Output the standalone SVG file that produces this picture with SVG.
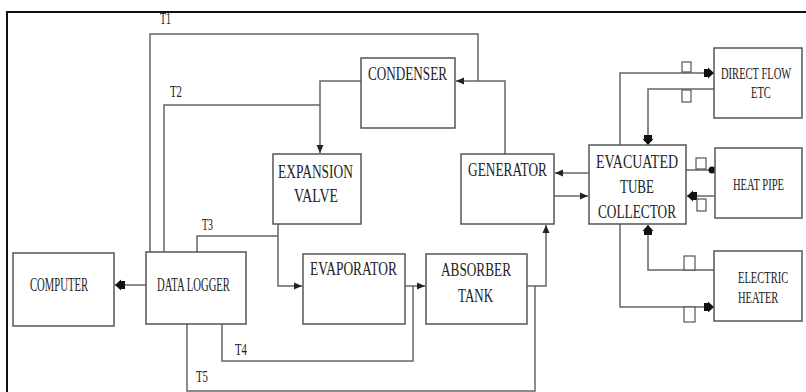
<svg xmlns="http://www.w3.org/2000/svg" width="806" height="392" viewBox="0 0 806 392">
<style>
.box{fill:#fff;stroke:#555;stroke-width:1.5}
.c{fill:none;stroke:#666;stroke-width:1.5}
.t{font-family:"Liberation Serif","Times New Roman",serif;font-size:19px;fill:#222}
.s{font-family:"Liberation Serif","Times New Roman",serif;font-size:17px;fill:#222}
.lb{font-family:"Liberation Serif","Times New Roman",serif;font-size:16px;fill:#222}
.v{fill:#fff;stroke:#555;stroke-width:1.2}
</style>
<defs>
<marker id="tri" markerUnits="userSpaceOnUse" markerWidth="10" markerHeight="10" refX="8" refY="5" orient="auto"><path d="M0,1.5 L8,5 L0,8.5 Z" fill="#222"/></marker>
<marker id="bold" markerUnits="userSpaceOnUse" markerWidth="12" markerHeight="12" refX="10" refY="6" orient="auto"><path d="M0,2 L4,2 L4,0.5 L10,6 L4,11.5 L4,10 L0,10 Z" fill="#111"/></marker>
<marker id="dot" markerUnits="userSpaceOnUse" markerWidth="10" markerHeight="10" refX="5" refY="5" orient="auto"><circle cx="5" cy="5" r="3.5" fill="#111"/></marker>
</defs>
<rect width="806" height="392" fill="#fff"/>
<text class="lb" x="160" y="24" textLength="11" lengthAdjust="spacingAndGlyphs">T1</text>
<rect x="7" y="12" width="820" height="400" fill="none" stroke="#111" stroke-width="2"/>

<g id="connectors">
<polyline class="c" points="146,285 115,285" marker-end="url(#bold)"/>
<polyline class="c" points="150,252 150,34 478,34 478,81"/>
<polyline class="c" points="505,154 505,81 456,81" marker-end="url(#tri)"/>
<polyline class="c" points="164,252 164,105 320,105"/>
<polyline class="c" points="361,81 320,81 320,153" marker-end="url(#tri)"/>
<polyline class="c" points="278,224 278,286 302,286" marker-end="url(#tri)"/>
<polyline class="c" points="197,252 197,236 278,236"/>
<polyline class="c" points="405,286 425,286" marker-end="url(#tri)"/>
<polyline class="c" points="222,324 222,361 413,361 413,286"/>
<polyline class="c" points="527,286 546,286 546,225" marker-end="url(#tri)"/>
<polyline class="c" points="187,324 187,391 535,391 535,286"/>
<polyline class="c" points="589,173 555,173" marker-end="url(#tri)"/>
<polyline class="c" points="554,196 588,196" marker-end="url(#tri)"/>
<polyline class="c" points="620,145 620,73 714,73" marker-end="url(#bold)"/>
<polyline class="c" points="714,89 648,89 648,145" marker-end="url(#bold)"/>
<polyline class="c" points="686,170 712,170" marker-end="url(#dot)"/>
<polyline class="c" points="715,196 687,196" marker-end="url(#bold)"/>
<polyline class="c" points="714,270 648,270 648,225" marker-end="url(#bold)"/>
<polyline class="c" points="620,224 620,307 714,307" marker-end="url(#bold)"/>
<rect class="v" x="682" y="62" width="9" height="10"/>
<rect class="v" x="682" y="90" width="9" height="12"/>
<rect class="v" x="696" y="158" width="10" height="11"/>
<rect class="v" x="697" y="199" width="9" height="12"/>
<rect class="v" x="684" y="256" width="11" height="14"/>
<rect class="v" x="684" y="307" width="11" height="15"/>
<text class="lb" x="170" y="97" textLength="12" lengthAdjust="spacingAndGlyphs">T2</text>
<text class="lb" x="202" y="230" textLength="11" lengthAdjust="spacingAndGlyphs">T3</text>
<text class="lb" x="235" y="355" textLength="12" lengthAdjust="spacingAndGlyphs">T4</text>
<text class="lb" x="196" y="382" textLength="12" lengthAdjust="spacingAndGlyphs">T5</text>
</g>

<g id="computer">
<rect class="box" x="13" y="253" width="101" height="73"/>
<text class="t" x="30" y="291" textLength="58" lengthAdjust="spacingAndGlyphs">COMPUTER</text>
</g>
<g id="data-logger">
<rect class="box" x="146" y="252" width="100" height="72"/>
<text class="t" x="157" y="291" textLength="73" lengthAdjust="spacingAndGlyphs">DATA LOGGER</text>
</g>
<g id="condenser">
<rect class="box" x="361" y="58" width="94" height="70"/>
<text class="t" x="368" y="80" textLength="79" lengthAdjust="spacingAndGlyphs">CONDENSER</text>
</g>
<g id="expansion-valve">
<rect class="box" x="273" y="154" width="88" height="70"/>
<text class="t" x="278" y="178" textLength="75" lengthAdjust="spacingAndGlyphs">EXPANSION</text>
<text class="t" x="294" y="202" textLength="44" lengthAdjust="spacingAndGlyphs">VALVE</text>
</g>
<g id="generator">
<rect class="box" x="461" y="154" width="93" height="70"/>
<text class="t" x="468" y="176" textLength="79" lengthAdjust="spacingAndGlyphs">GENERATOR</text>
</g>
<g id="evaporator">
<rect class="box" x="303" y="254" width="102" height="70"/>
<text class="t" x="310" y="275" textLength="87" lengthAdjust="spacingAndGlyphs">EVAPORATOR</text>
</g>
<g id="absorber-tank">
<rect class="box" x="426" y="254" width="101" height="70"/>
<text class="t" x="441" y="276" textLength="70" lengthAdjust="spacingAndGlyphs">ABSORBER</text>
<text class="t" x="458" y="302" textLength="35" lengthAdjust="spacingAndGlyphs">TANK</text>
</g>
<g id="evacuated-tube-collector">
<rect class="box" x="589" y="145" width="97" height="79"/>
<text class="t" x="596" y="168" textLength="82" lengthAdjust="spacingAndGlyphs">EVACUATED</text>
<text class="t" x="620" y="193" textLength="34" lengthAdjust="spacingAndGlyphs">TUBE</text>
<text class="t" x="598" y="218" textLength="78" lengthAdjust="spacingAndGlyphs">COLLECTOR</text>
</g>
<g id="direct-flow-etc">
<rect class="box" x="714" y="48" width="88" height="70"/>
<text class="s" transform="translate(721,79) scale(0.62,1)">DIRECT FLOW</text>
<text class="s" transform="translate(751,98) scale(0.62,1)">ETC</text>
</g>
<g id="heat-pipe">
<rect class="box" x="715" y="148" width="87" height="70"/>
<text class="s" transform="translate(733,190) scale(0.62,1)">HEAT PIPE</text>
</g>
<g id="electric-heater">
<rect class="box" x="714" y="251" width="88" height="70"/>
<text class="s" transform="translate(738,283) scale(0.62,1)">ELECTRIC</text>
<text class="s" transform="translate(738,303) scale(0.62,1)">HEATER</text>
</g>
</svg>
